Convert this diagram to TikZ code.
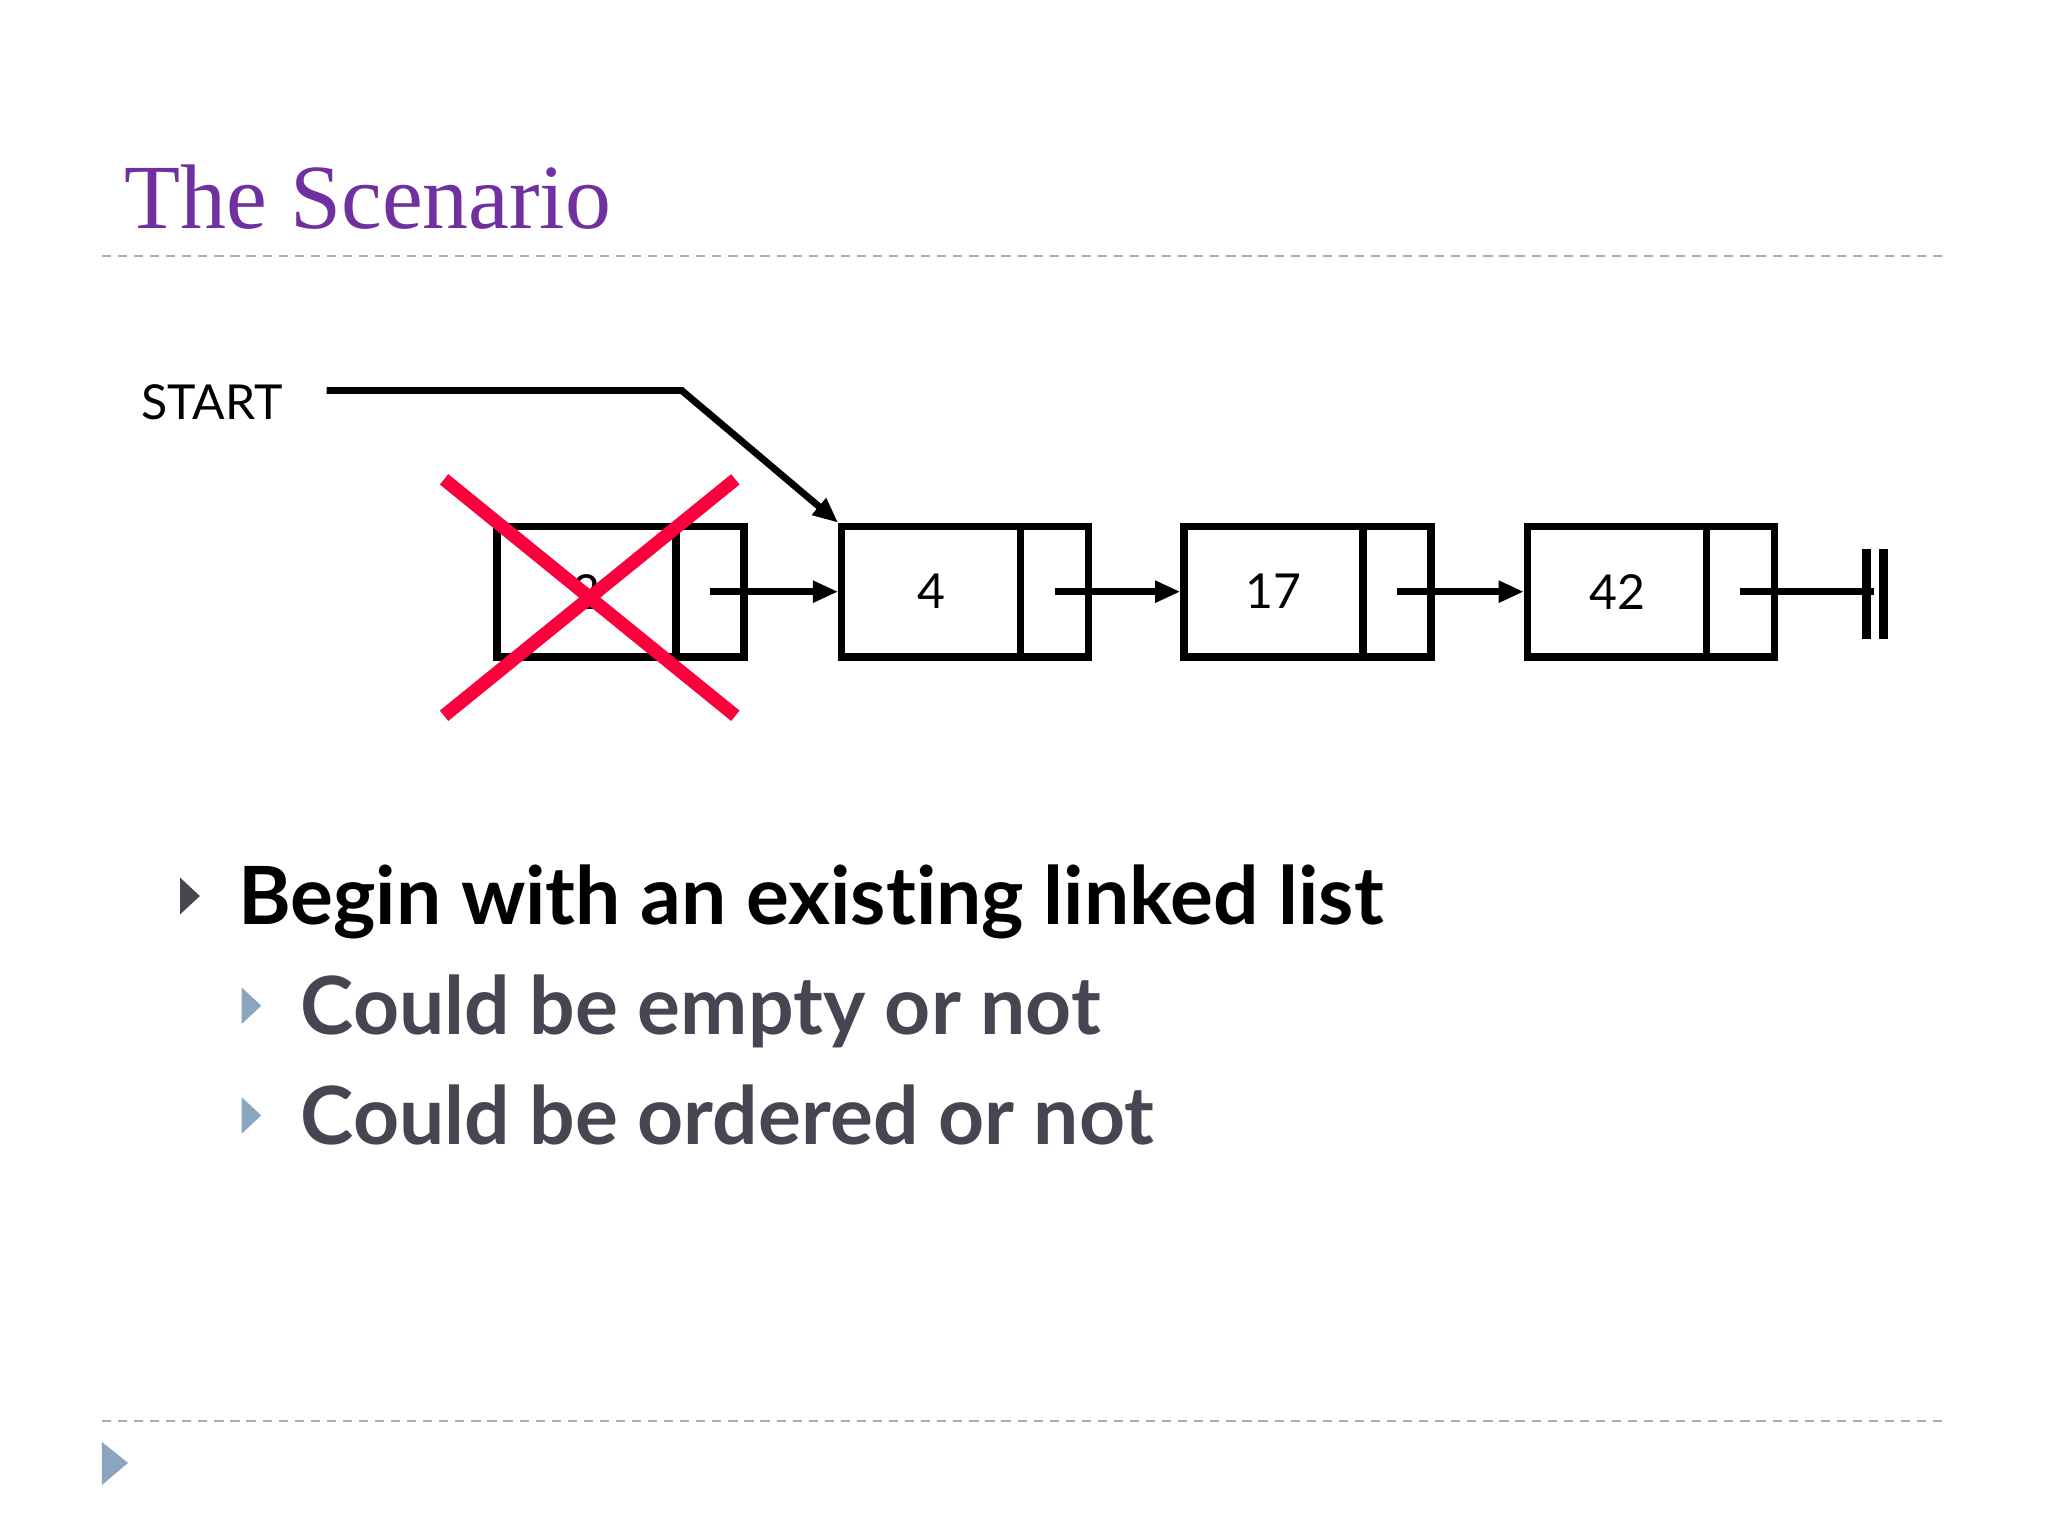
\documentclass[tikz,border=0pt]{standalone}
\usepackage{fontspec}
\setmainfont{Liberation Serif}
\newfontfamily\gillfont[Ligatures=NoCommon]{Lato}
\usetikzlibrary{arrows.meta,positioning}
\definecolor{titlepurple}{RGB}{112,48,160}
\definecolor{rulegrey}{RGB}{160,178,190}
\definecolor{bulletblue}{RGB}{140,165,190}
\definecolor{subgrey}{RGB}{70,70,82}
\definecolor{crossred}{RGB}{250,0,60}
\tikzset{
  valbox/.style={draw,line width=3.2pt,minimum width=137\px,minimum height=100\px,inner sep=0pt,font=\gillfont\fontsize{21}{21}\selectfont},
  ptrbox/.style={draw,line width=3.2pt,minimum width=52\px,minimum height=100\px,inner sep=0pt,right=-3.2pt of #1},
  link/.style={line width=3pt,-{Triangle[length=11pt,width=9pt]}},
}
\newlength{\px}\setlength{\px}{0.02cm}
\begin{document}
\begin{tikzpicture}[x=0.02cm,y=-0.02cm,line join=miter]
\useasboundingbox[fill=white] (0,0) rectangle (1568,1176);
% title and rules
\node[anchor=base west,inner sep=0pt,text=titlepurple,font=\fontsize{40}{40}\selectfont] (title) at (95,175) {The Scenario};
\draw[rulegrey,line width=0.8pt,dash pattern=on 4pt off 3pt] (78,196) -- (1490,196);
\draw[rulegrey,line width=0.8pt,dash pattern=on 4pt off 3pt] (78,1088) -- (1490,1088);
\fill[bulletblue] (78,1104) -- (98,1120) -- (78,1137) -- cycle;
% the list
\node[anchor=west,inner sep=0pt,font=\gillfont\fontsize{21}{21}\selectfont] (start) at (108,308) {START};
\node[valbox] (v0) at (449,453) {2};
\node[ptrbox=v0] (p0) {};
\node[valbox] (v1) at (713,453) {4};
\node[ptrbox=v1] (p1) {};
\node[valbox] (v2) at (975,453) {17};
\node[ptrbox=v2] (p2) {};
\node[valbox] (v3) at (1238,453) {42};
\node[ptrbox=v3] (p3) {};
\coordinate (s0) at (250,299);
\coordinate (bend) at (522,299);
\coordinate (nil) at (1435,453);
\draw[link] (s0) -- (bend) -- (v1.north west);
\draw[link] (p0.center) -- (v1.west);
\draw[link] (p1.center) -- (v2.west);
\draw[link] (p2.center) -- (v3.west);
\draw[line width=3pt] (p3.center) -- (nil);
\draw[line width=3.6pt] (1429,420) -- (1429,489) (1442,420) -- (1442,489);
% crossed out
\draw[crossred,line width=5.8pt] (340,367) -- (563,548) (340,548) -- (563,367);
% bullets
\fill[subgrey] (138,672) -- (153,686) -- (138,700) -- cycle;
\node[anchor=base west,inner sep=0pt,font=\gillfont\bfseries\fontsize{35}{35}\selectfont] (b1) at (182,708) {Begin with an existing linked list};
\fill[bulletblue] (185,756) -- (200,770) -- (185,784) -- cycle;
\node[anchor=base west,inner sep=0pt,text=subgrey,font=\gillfont\bfseries\fontsize{35}{35}\selectfont] (b2) at (230,792) {Could be empty or not};
\fill[bulletblue] (185,840) -- (200,854) -- (185,868) -- cycle;
\node[anchor=base west,inner sep=0pt,text=subgrey,font=\gillfont\bfseries\fontsize{35}{35}\selectfont] (b3) at (230,876) {Could be ordered or not};
\end{tikzpicture}
\end{document}
